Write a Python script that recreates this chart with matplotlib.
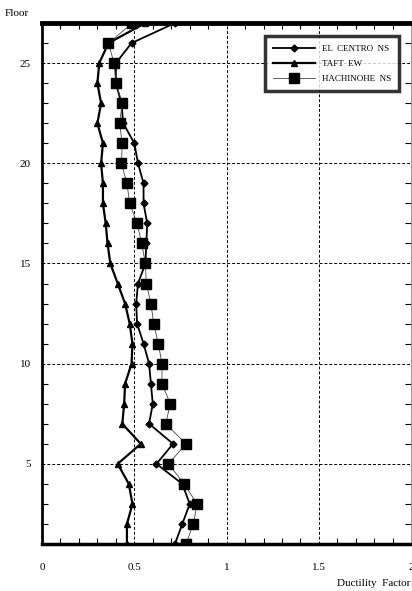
import matplotlib
matplotlib.use('Agg')
import matplotlib.pyplot as plt
from matplotlib.ticker import MultipleLocator

plt.rcParams['font.family'] = ['Liberation Serif', 'DejaVu Serif']

# =====================================================
# DATA (floor 1 .. 27)
# =====================================================

floors = list(range(1, 28))

el_centro = [0.72, 0.76, 0.80, 0.76, 0.62, 0.71, 0.58, 0.60, 0.59,
             0.58, 0.55, 0.515, 0.51, 0.52, 0.56, 0.565, 0.57, 0.55,
             0.55, 0.52, 0.50, 0.44, 0.43, 0.40, 0.40, 0.485, 0.72]

taft = [0.46, 0.46, 0.49, 0.47, 0.41, 0.535, 0.435, 0.445, 0.45,
        0.485, 0.49, 0.475, 0.45, 0.41, 0.37, 0.355, 0.345, 0.33,
        0.33, 0.32, 0.33, 0.30, 0.32, 0.30, 0.31, 0.36, 0.56]

hachinohe = [0.78, 0.82, 0.84, 0.77, 0.685, 0.78, 0.67, 0.695, 0.65,
             0.65, 0.63, 0.605, 0.59, 0.565, 0.56, 0.54, 0.515, 0.475,
             0.46, 0.43, 0.435, 0.42, 0.435, 0.40, 0.39, 0.36, 0.49]

# =====================================================
# PLOT
# =====================================================

fig = plt.figure(figsize=(4.12, 5.91), dpi=100)
ax = fig.add_axes([0.102, 0.0795, 0.896, 0.8815])

ax.plot(el_centro, floors, color='black', lw=1.3, marker='D',
        markersize=3.5, label='EL  CENTRO  NS', zorder=3)
ax.plot(taft, floors, color='black', lw=1.6, marker='^',
        markersize=4.5, label='TAFT  EW', zorder=3)
ax.plot(hachinohe, floors, color='#444444', lw=0.6, marker='s',
        markersize=6.8, markerfacecolor='black', markeredgecolor='black',
        label='HACHINOHE  NS', zorder=4)

ax.set_xlim(0, 2)
ax.set_ylim(1, 27)
ax.set_xticks([0, 0.5, 1, 1.5, 2])
ax.set_xticklabels(['0', '0.5', '1', '1.5', '2'])
ax.set_yticks([5, 10, 15, 20, 25])
ax.xaxis.set_minor_locator(MultipleLocator(0.1))
ax.yaxis.set_minor_locator(MultipleLocator(1))

ax.tick_params(which='both', direction='in', top=True, right=True,
               labelsize=8, pad=14)
ax.tick_params(which='major', length=0)
ax.tick_params(which='minor', length=4, width=0.8)
ax.tick_params(axis='y', pad=8)

ax.grid(True, which='major', linestyle=(0, (3, 2)), color='black', lw=0.7)

ax.spines['top'].set_linewidth(3.5)
ax.spines['bottom'].set_linewidth(2.5)
ax.spines['left'].set_linewidth(2)
ax.spines['right'].set_linewidth(0.6)
ax.spines['right'].set_color('#888888')

leg = ax.legend(loc='upper right', bbox_to_anchor=(0.98, 0.983),
                fontsize=6.5, frameon=True, fancybox=False,
                handlelength=4.6, borderpad=0.9, labelspacing=0.75)
leg.get_frame().set_edgecolor('black')
leg.get_frame().set_linewidth(2.5)

fig.text(0.012, 0.978, 'Floor', fontsize=8, ha='left', va='center')
fig.text(0.995, 0.013, 'Ductility  Factor', fontsize=8, ha='right',
         va='center')

fig.savefig('out.png', dpi=100)
